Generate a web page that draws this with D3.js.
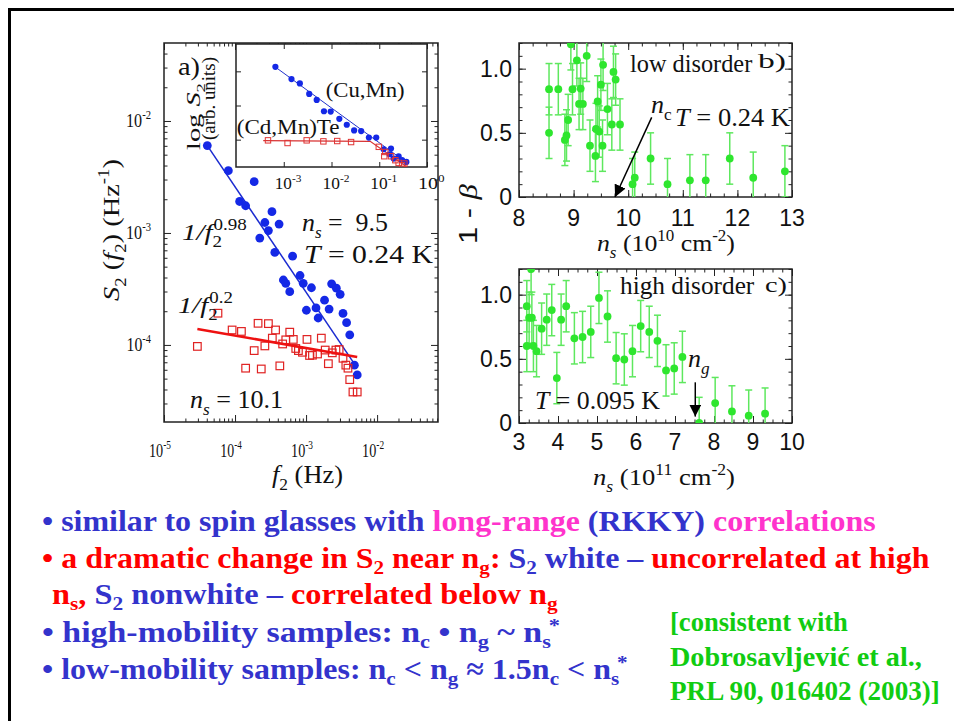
<!DOCTYPE html>
<html>
<head>
<meta charset="utf-8">
<script src="https://cdn.jsdelivr.net/npm/d3@7"></script>
<style>body{margin:0;background:#fff}</style>
</head>
<body>
<div class="canvas"></div>
<script>
// ---- panel a: S2(f2), log-log ----
const blueF = [4.07e-5, 8.05e-5, 1.86e-4, 1.16e-4, 1.41e-4, 3.31e-4, 2.63e-4, 4.17e-4, 2.95e-4, 2.23e-4,
  3.63e-4, 6.46e-4, 4.79e-4, 5.18e-4, 5.89e-4, 8.22e-4, 9.12e-4, 1.19e-3, 1.01e-3, 1.48e-3,
  1.38e-3, 1.82e-3, 2.11e-3, 2.29e-3, 2.67e-3, 3.02e-3, 3.31e-3, 3.72e-3, 4.12e-3, 4.79e-3, 5.25e-3];
const blueS = [6.03e-3, 3.60e-3, 2.87e-3, 1.91e-3, 1.75e-3, 1.55e-3, 1.24e-3, 1.20e-3, 1.05e-3, 9.0e-4,
  6.7e-4, 6.2e-4, 3.8e-4, 3.55e-4, 2.99e-4, 4.17e-4, 3.55e-4, 3.24e-4, 2.04e-4, 1.74e-4,
  2.14e-4, 2.51e-4, 2.09e-4, 3.51e-4, 3.21e-4, 2.83e-4, 1.91e-4, 1.58e-4, 1.23e-4, 6.6e-5, 5.4e-5];
const redF = [2.95e-5, 5.75e-5, 9.1e-5, 1.23e-4, 1.41e-4, 1.86e-4, 2.11e-4, 2.34e-4, 2.63e-4, 2.95e-4,
  3.35e-4, 3.72e-4, 4.27e-4, 4.68e-4, 5.18e-4, 5.89e-4, 6.61e-4, 7.16e-4, 7.8e-4, 8.9e-4,
  1.03e-3, 1.12e-3, 1.23e-3, 1.45e-3, 1.64e-3, 1.86e-3, 2.06e-3, 2.34e-3, 2.63e-3, 2.92e-3,
  3.31e-3, 3.63e-3, 3.89e-3, 4.12e-3, 4.57e-3, 5.25e-3];
const redS = [9.7e-5, 1.92e-4, 1.36e-4, 1.32e-4, 6.2e-5, 8.9e-5, 1.56e-4, 6.1e-5, 9.8e-5, 1.55e-4,
  1.15e-4, 1.36e-4, 6.5e-5, 1.02e-4, 1.11e-4, 1.30e-4, 1.12e-4, 9.3e-5, 8.9e-5, 8.6e-5,
  1.12e-4, 8.05e-5, 8.1e-5, 8.3e-5, 1.15e-4, 9.0e-5, 6.8e-5, 8.5e-5, 9.0e-5, 9.1e-5,
  7.6e-5, 6.6e-5, 6.2e-5, 4.9e-5, 3.8e-5, 3.8e-5];
const blueFitF = [4.07e-5, 5.0e-3], blueFitS = [6.03e-3, 6.5e-5];
const redFitF = [2.95e-5, 5.25e-3], redFitS = [1.39e-4, 7.8e-5];
const aTicksX = [1e-5, 1e-4, 1e-3, 1e-2], aTickLabX = ['-5', '-4', '-3', '-2'];
const aTicksY = [1e-4, 1e-3, 1e-2], aTickLabY = ['-4', '-3', '-2'];

// inset (arb. units), log10 of values
const inBlueX = [-3.175, -2.838, -2.663, -2.467, -2.31, -2.158, -2.017, -1.836, -1.68, -1.526, -1.379,
  -1.217, -1.063, -0.909, -0.783, -0.754, -0.699, -0.594, -0.522, -0.432];
const inBlueY = [1.131, 0.774, 0.646, 0.338, 0.163, -0.168, -0.177, -0.39, -0.563, -0.729, -0.749,
  -0.94, -0.94, -1.281, -1.427, -1.261, -1.552, -1.485, -1.601, -1.651];
const inRedX = [-3.33, -2.92, -2.52, -2.17, -1.88, -1.59, -1.01, -0.874, -0.895, -0.754, -0.663, -0.594, -0.522, -0.474];
const inRedY = [-1.02, -1.098, -1.02, -1.05, -1.04, -1.07, -1.21, -1.36, -1.485, -1.485, -1.601, -1.68, -1.747, -1.697];
const inBlueLineX = [-3.2, -0.42], inBlueLineY = [1.15, -1.68];
const inRedLineX = [-3.43, -1.19, -0.42], inRedLineY = [-1.03, -1.05, -1.8];
const inTicksX = [1e-3, 1e-2, 1e-1, 1], inTickLab = ['-3', '-2', '-1', '0'];
const inTicksY = [0.1, 1, 10];

// ---- panel b: low disorder ----
const bX = [8.55, 8.55, 8.72, 8.84, 8.87, 8.90, 8.95, 8.98, 9.06, 9.10, 9.13, 9.17, 9.24, 9.30, 9.40, 9.41,
  9.44, 9.47, 9.50, 9.53, 9.54, 9.62, 9.70, 9.73, 9.77, 9.85, 10.08, 10.12, 10.41, 10.72, 11.13, 11.42,
  11.86, 12.29, 12.87];
const bY = [0.84, 0.50, 0.84, 0.445, 0.48, 0.60, 1.19, 0.84, 1.065, 0.725, 0.845, 0.725, 1.10, 0.40, 0.32, 0.53,
  0.745, 0.51, 0.875, 0.40, 1.03, 0.685, 0.565, 0.975, 0.915, 0.565, 0.10, 0.15, 0.30, 0.10, 0.13, 0.13,
  0.30, 0.15, 0.20];
const bTicksX = [8, 9, 10, 11, 12, 13];

// ---- panel c: high disorder ----
const cX = [3.20, 3.20, 3.26, 3.31, 3.33, 3.37, 3.45, 3.58, 3.71, 3.84, 3.97, 4.08, 4.21, 4.42, 4.63, 4.84,
  5.05, 5.27, 5.49, 5.70, 5.91, 6.12, 6.34, 6.55, 6.77, 6.98, 7.19, 7.62, 8.03, 8.46, 8.89, 9.31];
const cY = [0.91, 0.60, 0.82, 1.20, 0.82, 0.60, 0.56, 0.735, 0.805, 0.88, 0.35, 0.805, 0.91, 0.66, 0.67, 0.71,
  0.975, 0.83, 0.505, 0.495, 0.56, 0.755, 0.71, 0.64, 0.41, 0.425, 0.515, 0.0, 0.155, 0.09, 0.057, 0.073];
const cTicksX = [3, 4, 5, 6, 7, 8, 9, 10];
const yTicksBC = [0, 0.5, 1.0], yTickLabBC = ['0', '0.5', '1.0'];
const errBar = 0.2;

const SERIF = '"Liberation Serif","Times New Roman",serif';
const SANS = '"Liberation Sans",Arial,sans-serif';
const BLUE = '#3333cc', PINK = '#ff33cc', RED = '#ff0000', GREEN = '#11cc11';

const svg = d3.select('.canvas').append('svg')
    .attr('width', 954)
    .attr('height', 721);
const defs = svg.append('defs');
defs.append('marker').attr('id', 'head')
    .attr('viewBox', '0 0 10 10').attr('refX', 10).attr('refY', 5)
    .attr('markerWidth', 12).attr('markerHeight', 12).attr('markerUnits', 'userSpaceOnUse')
    .attr('orient', 'auto')
  .append('path').attr('d', 'M0,0L10,5L0,10z').attr('fill', '#000');

// slide border
svg.append('path').attr('d', 'M8,9.5H954M9.5,9.5V721')
    .attr('stroke', '#000').attr('stroke-width', 3).attr('fill', 'none');

// text with sub/superscripts, optionally squeezed to a width
function rich(parent, x, y, segs, o = {}) {
  const fs = o.size || 20;
  const subOff = o.subOff || 0.28, supOff = o.supOff || 0.42;
  const t = parent.append('text')
      .attr('x', x).attr('y', y)
      .attr('font-family', o.family || SERIF)
      .attr('font-size', fs)
      .attr('font-weight', o.weight || null)
      .attr('fill', o.fill || '#111')
      .attr('text-anchor', o.anchor || 'start')
      .style('white-space', 'pre');
  let shift = 0;
  segs.forEach(s => {
    if (typeof s === 'string') s = {t: s};
    const off = s.sub ? fs * subOff : s.sup ? -fs * supOff : 0;
    const sp = t.append('tspan').attr('dy', off - shift).text(s.t);
    shift = off;
    if (s.dx) sp.attr('dx', s.dx);
    if (s.sub || s.sup) sp.attr('font-size', fs * 0.66);
    if (s.fill) sp.attr('fill', s.fill);
    if (s.it) sp.attr('font-style', 'italic');
    if (s.fam) sp.attr('font-family', s.fam);
  });
  const k = o.width ? o.width / t.node().getBBox().width : 1;
  const r = o.rotate || 0;
  if (k !== 1 || r) t.attr('transform', `translate(${x},${y}) rotate(${r}) scale(${k},1) translate(${-x},${-y})`);
  return t;
}

// inward ticks on all four sides plus frame
function frame(g, x, y, xMajor, xMinor, yMajor, yMinor, len) {
  const [x0, x1] = x.range(), [y0, y1] = y.range();
  const put = (axis, tr) => g.append('g').attr('transform', tr).call(axis)
      .call(s => { s.select('.domain').remove(); s.selectAll('line').attr('stroke', '#222'); s.selectAll('text').remove(); });
  [[xMinor, len / 2], [xMajor, len]].forEach(([v, l]) => {
    put(d3.axisBottom(x).tickValues(v).tickSize(-l), `translate(0,${y0})`);
    put(d3.axisTop(x).tickValues(v).tickSize(-l), `translate(0,${y1})`);
  });
  [[yMinor, len / 2], [yMajor, len]].forEach(([v, l]) => {
    put(d3.axisLeft(y).tickValues(v).tickSize(-l), `translate(${x0},0)`);
    put(d3.axisRight(y).tickValues(v).tickSize(-l), `translate(${x1},0)`);
  });
  g.append('rect').attr('x', x0).attr('y', y1).attr('width', x1 - x0).attr('height', y0 - y1)
      .attr('fill', 'none').attr('stroke', '#222').attr('stroke-width', 1.5);
}

function clipFor(id, x, y) {
  const [x0, x1] = x.range(), [y0, y1] = y.range();
  defs.append('clipPath').attr('id', id).append('rect')
      .attr('x', x0).attr('y', y1).attr('width', x1 - x0).attr('height', y0 - y1);
  return `url(#${id})`;
}

// ================= panel a =================
const ax = d3.scaleLog().domain([1e-5, 0.072]).range([164, 438]);
const ay = d3.scaleLog().domain([2.05e-5, 0.0497]).range([422, 43]);
const pa = svg.append('g');
const isDecade = v => Math.abs(Math.log10(v) - Math.round(Math.log10(v))) < 1e-9;
frame(pa, ax, ay,
  ax.ticks().filter(isDecade), ax.ticks().filter(v => !isDecade(v)),
  ay.ticks().filter(isDecade), ay.ticks().filter(v => !isDecade(v)), 7);

const aData = pa.append('g').attr('clip-path', clipFor('clipA', ax, ay));
const line = d3.line();
aData.append('path')
    .attr('d', line(blueFitF.map((f, i) => [ax(f), ay(blueFitS[i])])))
    .attr('stroke', '#1b2bd0').attr('stroke-width', 1.5).attr('fill', 'none');
aData.selectAll('circle.blue').data(blueF).enter().append('circle')
    .attr('cx', d => ax(d)).attr('cy', (d, i) => ay(blueS[i])).attr('r', 4.4)
    .attr('fill', '#1428e6');
aData.selectAll('rect.red').data(redF).enter().append('rect')
    .attr('x', d => ax(d) - 3.8).attr('y', (d, i) => ay(redS[i]) - 3.8)
    .attr('width', 7.6).attr('height', 7.6)
    .attr('fill', 'none').attr('stroke', '#e02222').attr('stroke-width', 1.2);
aData.append('path')
    .attr('d', line(redFitF.map((f, i) => [ax(f), ay(redFitS[i])])))
    .attr('stroke', '#ee1111').attr('stroke-width', 2.5).attr('fill', 'none');

aTicksX.forEach((v, i) => rich(pa, ax(v) - 4, 457, ['10', {t: aTickLabX[i], sup: true}], {size: 19, anchor: 'middle', width: 22}));
aTicksY.forEach((v, i) => rich(pa, 151, ay(v) + 6, ['10', {t: aTickLabY[i], sup: true}], {size: 19, anchor: 'end', width: 25}));
rich(pa, 272, 483, [{t: 'f', it: true}, {t: '2', sub: true}, ' (Hz)'], {size: 25, width: 71});
rich(pa, 119, 230, [{t: 'S', it: true}, {t: '2', sub: true}, ' (', {t: 'f', it: true}, {t: '2', sub: true}, ') (Hz',
  {t: '-1', sup: true}, ')'], {size: 24, width: 142, rotate: -90, anchor: 'middle'});

rich(pa, 182, 240, [{t: '1/f', it: true}, {t: '2', sub: true}, {t: '0.98', sup: true, dx: -7}], {size: 24, width: 65});
rich(pa, 302, 231, [{t: 'n', it: true}, {t: 's', sub: true, it: true}, ' =  9.5'], {size: 26, width: 86});
rich(pa, 304, 263, [{t: 'T', it: true}, ' = 0.24 K'], {size: 25, width: 129});
rich(pa, 178, 313, [{t: '1/f', it: true}, {t: '2', sub: true}, {t: '0.2', sup: true, dx: -7}], {size: 24, width: 55});
rich(pa, 190, 408, [{t: 'n', it: true}, {t: 's', sub: true, it: true}, ' = 10.1'], {size: 26, width: 93});
rich(pa, 178, 75, ['a)'], {size: 25, width: 22});
rich(pa, 200, 116.5, ['log ', {t: 'S', it: true}, {t: '2', sub: true}], {size: 19, width: 67, rotate: -90, anchor: 'middle'});
rich(pa, 215, 98.5, ['(arb. units)'], {size: 19, width: 83, rotate: -90, anchor: 'middle'});

// inset
const ix = d3.scaleLog().domain([1e-4, 1]).range([236, 427]);
const iy = d3.scaleLog().domain([Math.pow(10, -1.8), Math.pow(10, 1.8)]).range([167, 44]);
const ins = svg.append('g');
ins.append('rect').attr('x', 236).attr('y', 44).attr('width', 191).attr('height', 123).attr('fill', '#fff');
frame(ins, ix, iy, inTicksX, [], inTicksY, [], 5);
const iData = ins.append('g').attr('clip-path', clipFor('clipI', ix, iy));
iData.append('path')
    .attr('d', line(inBlueLineX.map((v, i) => [ix(10 ** v), iy(10 ** inBlueLineY[i])])))
    .attr('stroke', '#2233cc').attr('stroke-width', 1).attr('fill', 'none');
iData.append('path')
    .attr('d', line(inRedLineX.map((v, i) => [ix(10 ** v), iy(10 ** inRedLineY[i])])))
    .attr('stroke', '#d83333').attr('stroke-width', 1.2).attr('fill', 'none');
iData.selectAll('circle').data(inBlueX).enter().append('circle')
    .attr('cx', d => ix(10 ** d)).attr('cy', (d, i) => iy(10 ** inBlueY[i])).attr('r', 3.1)
    .attr('fill', '#1428e6');
iData.selectAll('rect.sq').data(inRedX).enter().append('rect')
    .attr('x', d => ix(10 ** d) - 2.7).attr('y', (d, i) => iy(10 ** inRedY[i]) - 2.7)
    .attr('width', 5.4).attr('height', 5.4)
    .attr('fill', 'none').attr('stroke', '#e03333').attr('stroke-width', 1);
inTicksX.forEach((v, i) => rich(ins, ix(v) - 9, 189, ['10', {t: inTickLab[i], sup: true}], {size: 17, width: 27}));
rich(ins, 325.7, 97, ['(Cu,Mn)'], {size: 22, width: 79});
rich(ins, 236.7, 134, ['(Cd,Mn)Te'], {size: 22, width: 103});

// ================= panels b, c =================
function greenPanel(id, x, y, xs, ys, xTicks, xBase) {
  const g = svg.append('g');
  frame(g, x, y, xTicks, d3.range(x.domain()[0], x.domain()[1] + 0.01, 0.25),
    yTicksBC, d3.range(0, 1.21, 0.1), 7);
  const dg = g.append('g').attr('clip-path', clipFor(id, x, y));
  const pts = xs.map((v, i) => [v, ys[i]]);
  dg.selectAll('line.bar').data(pts).enter().append('line')
      .attr('x1', d => x(d[0])).attr('x2', d => x(d[0]))
      .attr('y1', d => y(d[1] - errBar)).attr('y2', d => y(d[1] + errBar))
      .attr('stroke', '#5ee85e').attr('stroke-width', 1.5);
  [-errBar, errBar].forEach(e => dg.selectAll(null).data(pts).enter().append('line')
      .attr('x1', d => x(d[0]) - 3.5).attr('x2', d => x(d[0]) + 3.5)
      .attr('y1', d => y(d[1] + e)).attr('y2', d => y(d[1] + e))
      .attr('stroke', '#5ee85e').attr('stroke-width', 1.5));
  dg.selectAll('circle').data(pts).enter().append('circle')
      .attr('cx', d => x(d[0])).attr('cy', d => y(d[1])).attr('r', 3.9)
      .attr('fill', '#2ee62e');
  g.selectAll('text.xt').data(xTicks).enter().append('text')
      .attr('x', d => x(d)).attr('y', xBase).attr('text-anchor', 'middle')
      .attr('font-family', SANS).attr('font-size', 23).attr('fill', '#111').text(d => d);
  g.selectAll('text.yt').data(yTicksBC).enter().append('text')
      .attr('x', 512).attr('y', d => y(d) + 8).attr('text-anchor', 'end')
      .attr('font-family', SANS).attr('font-size', 23).attr('fill', '#111')
      .text((d, i) => yTickLabBC[i]);
  return g;
}

const bx = d3.scaleLinear().domain([8, 13]).range([519, 792]);
const by = d3.scaleLinear().domain([0, 1.2]).range([197, 43]);
const pb = greenPanel('clipB', bx, by, bX, bY, bTicksX, 226);
pb.append('line')
    .attr('x1', bx(10.43)).attr('y1', by(0.62)).attr('x2', bx(9.76)).attr('y2', by(0))
    .attr('stroke', '#000').attr('stroke-width', 1.5).attr('marker-end', 'url(#head)');
rich(pb, 630, 72, ['low disorder'], {size: 25, width: 123});
rich(pb, 758, 68, ['b)'], {size: 21, width: 28});
rich(pb, 651, 113, [{t: 'n', it: true}, {t: 'c', sub: true}], {size: 26});
rich(pb, 675, 126, [{t: 'T', it: true}, ' = 0.24 K'], {size: 25, width: 115});
rich(pb, 597, 251, [{t: 'n', it: true}, {t: 's', sub: true, it: true}, ' (10', {t: '10', sup: true}, ' cm',
  {t: '-2', sup: true}, ')'], {size: 24, width: 138});
rich(svg, 477, 214, ['1 - ', {t: 'β', it: true, fam: SERIF}], {size: 26, family: SANS, width: 60, rotate: -90, anchor: 'middle'});

const cx = d3.scaleLinear().domain([3, 10]).range([519, 792]);
const cy = d3.scaleLinear().domain([0, 1.2]).range([423, 269]);
const pc = greenPanel('clipC', cx, cy, cX, cY, cTicksX, 450);
pc.append('line')
    .attr('x1', cx(7.52)).attr('y1', cy(0.317)).attr('x2', cx(7.52)).attr('y2', cy(0.05))
    .attr('stroke', '#000').attr('stroke-width', 1.5).attr('marker-end', 'url(#head)');
rich(pc, 620, 294, ['high disorder'], {size: 25, width: 135});
rich(pc, 765, 292, ['c)'], {size: 21, width: 22});
rich(pc, 688, 367, [{t: 'n', it: true}, {t: 'g', sub: true, it: true}], {size: 26});
rich(pc, 535, 409, [{t: 'T', it: true}, ' = 0.095 K'], {size: 25, width: 125});
rich(pc, 593, 485, [{t: 'n', it: true}, {t: 's', sub: true, it: true}, ' (10', {t: '11', sup: true}, ' cm',
  {t: '-2', sup: true}, ')'], {size: 24, width: 142});

// ================= bullet text =================
const bt = svg.append('g');
const bo = (w) => ({size: 30, weight: 'bold', width: w, subOff: 0.2, supOff: 0.34});
rich(bt, 42, 531, [{t: '• similar to spin glasses with ', fill: BLUE}, {t: 'long-range', fill: PINK},
  {t: ' (RKKY) ', fill: BLUE}, {t: 'correlations', fill: PINK}], bo(834));
rich(bt, 42, 568, [{t: '• a dramatic change in S', fill: RED}, {t: '2', sub: true, fill: RED}, {t: ' near n', fill: RED},
  {t: 'g', sub: true, fill: RED}, {t: ': ', fill: RED}, {t: 'S', fill: BLUE}, {t: '2', sub: true, fill: BLUE},
  {t: ' white – ', fill: BLUE}, {t: 'uncorrelated at high', fill: RED}], bo(888));
rich(bt, 52, 604, [{t: 'n', fill: RED}, {t: 's', sub: true, fill: RED}, {t: ', ', fill: RED}, {t: 'S', fill: BLUE},
  {t: '2', sub: true, fill: BLUE}, {t: ' nonwhite – ', fill: BLUE}, {t: 'correlated below n', fill: RED},
  {t: 'g', sub: true, fill: RED}], bo(506));
rich(bt, 42, 642, ['• high-mobility samples: n', {t: 'c', sub: true}, ' • n', {t: 'g', sub: true}, ' ~ n',
  {t: 's', sub: true}, {t: '*', sup: true, dx: -2}], Object.assign(bo(518), {fill: BLUE}));
rich(bt, 42, 679, ['• low-mobility samples: n', {t: 'c', sub: true}, ' < n', {t: 'g', sub: true}, ' ≈ 1.5n',
  {t: 'c', sub: true}, ' < n', {t: 's', sub: true}, {t: '*', sup: true, dx: -2}], Object.assign(bo(586), {fill: BLUE}));
rich(bt, 670, 631, ['[consistent with'], {size: 27, weight: 'bold', fill: GREEN, width: 178});
rich(bt, 670, 666, ['Dobrosavljević et al.,'], {size: 27, weight: 'bold', fill: GREEN, width: 252});
rich(bt, 670, 700, ['PRL 90, 016402 (2003)]'], {size: 27, weight: 'bold', fill: GREEN, width: 270});
</script>
</body>
</html>
